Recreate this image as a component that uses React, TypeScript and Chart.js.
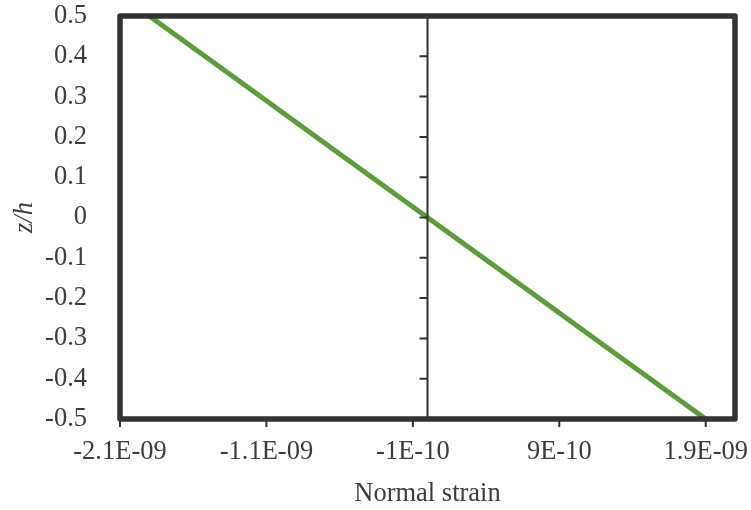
import React, { useEffect, useRef } from "react";
import { Chart, registerables } from "chart.js";

Chart.register(...registerables);

const zValues = [0.5, 0.4, 0.3, 0.2, 0.1, 0, -0.1, -0.2, -0.3, -0.4, -0.5];
const strainValues = [
  -1.9e-9, -1.52e-9, -1.14e-9, -0.76e-9, -0.38e-9, 0, 0.38e-9, 0.76e-9, 1.14e-9, 1.52e-9, 1.9e-9,
];
const xTickValues = [-2.1e-9, -1.1e-9, -1e-10, 9e-10, 1.9e-9];
const xTickLabels = ["-2.1E-09", "-1.1E-09", "-1E-10", "9E-10", "1.9E-09"];
const yTickValues = [-0.5, -0.4, -0.3, -0.2, -0.1, 0, 0.1, 0.2, 0.3, 0.4, 0.5];
const yTickLabels = ["-0.5", "-0.4", "-0.3", "-0.2", "-0.1", "0", "0.1", "0.2", "0.3", "0.4", "0.5"];
const xTitle = "Normal strain";
const yTitle = "z/h";

const FONT = "'Liberation Serif', 'Times New Roman', serif";
const FS = 26.5;
const TEXT = "#3d3d3d";
const AXIS = "#333333";

const framePlugin = {
  id: "frame",
  afterDraw(chart: any) {
    const { ctx, chartArea } = chart;
    const xs = chart.scales.x;
    const ys = chart.scales.y;
    const { left, right, top, bottom } = chartArea;
    ctx.save();
    const x0 = xs.getPixelForValue(0);
    ctx.strokeStyle = AXIS;
    ctx.lineWidth = 2;
    ctx.beginPath();
    ctx.moveTo(x0, top);
    ctx.lineTo(x0, bottom);
    for (const v of yTickValues) {
      const py = ys.getPixelForValue(v);
      ctx.moveTo(x0, py);
      ctx.lineTo(x0 - 8, py);
    }
    ctx.stroke();
    ctx.beginPath();
    for (const v of xTickValues) {
      const px = xs.getPixelForValue(v);
      ctx.moveTo(px, bottom);
      ctx.lineTo(px, bottom + 8);
    }
    ctx.stroke();
    ctx.lineWidth = 5.5;
    ctx.lineJoin = "round";
    ctx.strokeRect(left, top, right - left, bottom - top);
    ctx.restore();
  },
};

export default function App() {
  const ref = useRef<HTMLCanvasElement | null>(null);
  useEffect(() => {
    document.body.style.margin = "0";
    const canvas = ref.current!;
    const chart = new Chart(canvas, {
      type: "scatter",
      data: {
        datasets: [
          {
            data: strainValues.map((x, i) => ({ x, y: zValues[i] })),
            showLine: true,
            borderColor: "#5D9C3A",
            backgroundColor: "#5D9C3A",
            borderWidth: 5,
            pointRadius: 0,
            borderCapStyle: "butt",
          },
        ],
      },
      options: {
        animation: false,
        responsive: false,
        maintainAspectRatio: false,
        layout: { padding: { left: 0, right: 16, top: 16, bottom: 0 } },
        plugins: { legend: { display: false }, tooltip: { enabled: false } },
        scales: {
          x: {
            type: "linear",
            min: -2.1e-9,
            max: 2.1e-9,
            afterBuildTicks: (s: any) => {
              s.ticks = xTickValues.map((v) => ({ value: v }));
            },
            afterFit: (s: any) => {
              s.height = 91;
              s.paddingLeft = 0;
              s.paddingRight = 0;
            },
            grid: { display: false },
            border: { display: false },
            ticks: {
              callback: (_v: any, i: number) => xTickLabels[i],
              font: { family: FONT, size: FS },
              color: TEXT,
              padding: 9,
              maxRotation: 0,
              autoSkip: false,
            },
            title: {
              display: true,
              text: xTitle,
              font: { family: FONT, size: FS },
              color: TEXT,
              padding: { top: 0, bottom: 0 },
            },
          },
          y: {
            type: "linear",
            min: -0.5,
            max: 0.5,
            afterBuildTicks: (s: any) => {
              s.ticks = yTickValues.map((v) => ({ value: v }));
            },
            afterFit: (s: any) => {
              s.width = 120;
              s.paddingTop = 0;
              s.paddingBottom = 0;
            },
            grid: { display: false },
            border: { display: false },
            ticks: {
              callback: (_v: any, i: number) => yTickLabels[i],
              font: { family: FONT, size: FS },
              color: TEXT,
              padding: 25,
              autoSkip: false,
            },
            title: {
              display: true,
              text: yTitle,
              font: { family: FONT, size: FS, style: "italic" },
              color: TEXT,
              padding: { top: 9, bottom: 0 },
            },
          },
        },
      },
      plugins: [framePlugin],
    } as any);
    return () => chart.destroy();
  }, []);
  return (
    <div style={{ position: "absolute", left: 0, top: 0, width: 751, height: 510 }}>
      <canvas ref={ref} width={751} height={510} style={{ width: 751, height: 510 }} />
    </div>
  );
}
